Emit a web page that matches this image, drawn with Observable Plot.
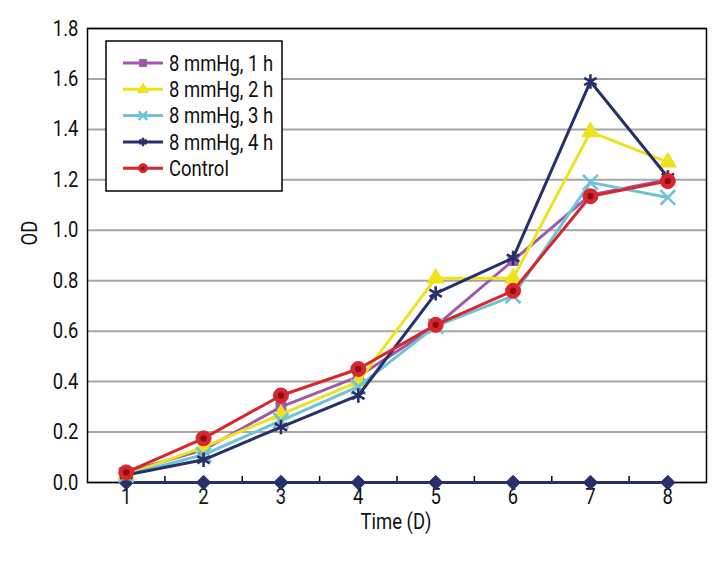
<!DOCTYPE html>
<html><head><meta charset="utf-8">
<script src="https://cdn.jsdelivr.net/npm/d3@7"></script>
<script src="https://cdn.jsdelivr.net/npm/@observablehq/plot@0.6"></script>
<style>body{margin:0;background:#fff}</style>
</head><body><div id="chart"></div>
<script>
const days = [1, 2, 3, 4, 5, 6, 7, 8];
const od1h = [0.04, 0.13, 0.30, 0.42, 0.62, 0.88, 1.14, 1.20];
const od2h = [0.03, 0.14, 0.27, 0.40, 0.81, 0.81, 1.39, 1.27];
const od3h = [0.03, 0.11, 0.245, 0.38, 0.62, 0.74, 1.19, 1.13];
const od4h = [0.03, 0.09, 0.22, 0.345, 0.75, 0.89, 1.59, 1.21];
const control = [0.04, 0.175, 0.345, 0.45, 0.625, 0.76, 1.135, 1.195];
const baseline = [0, 0, 0, 0, 0, 0, 0, 0];
const seriesNames = ["8 mmHg, 1 h", "8 mmHg, 2 h", "8 mmHg, 3 h", "8 mmHg, 4 h", "Control"];
const seriesValues = [od1h, od2h, od3h, od4h, control];
const colors = ["#9e5aa8", "#ede31c", "#6ec3d6", "#27306b", "#d8262e"];
const symbols = ["square", "triangle", "times", "asterisk", "circle"];
const yTicks = [0, 0.2, 0.4, 0.6, 0.8, 1.0, 1.2, 1.4, 1.6, 1.8];
const xLabel = "Time (D)";
const yLabel = "OD";

const FONT = "Roboto, 'Liberation Sans', 'Noto Sans', sans-serif";
const FS = 22;
const SQUEEZE = 0.84;
const boundaries = days.slice(0, -1).map(d => d + 0.5);
const base = days.map((d, j) => ({day: d, od: baseline[j]}));
const seriesData = seriesNames.map((name, i) => days.map((d, j) => ({series: name, day: d, od: seriesValues[i][j]})));

function markerMarks(data, i) {
  const c = colors[i], s = symbols[i];
  if (s === "circle") return [
    Plot.dot(data, {x: "day", y: "od", r: 7.5, fill: c, stroke: c, strokeWidth: 1}),
    Plot.dot(data, {x: "day", y: "od", r: 3.2, fill: "#8e0c14"})
  ];
  if (s === "times" || s === "asterisk") return [
    Plot.dot(data, {x: "day", y: "od", r: 6.8, symbol: s, stroke: c, strokeWidth: 2.6})
  ];
  return [Plot.dot(data, {x: "day", y: "od", r: s === "triangle" ? 6.3 : 5.6, symbol: s, fill: c, stroke: c, strokeWidth: 1})];
}

const marks = [
  Plot.ruleY(yTicks, {stroke: "#a6a6a6", strokeWidth: 2}),
  Plot.frame({stroke: "#000", strokeWidth: 1.5}),
  Plot.ruleX(boundaries, {y1: 0, y2: 0.024, stroke: "#000", strokeWidth: 1.5}),
  Plot.axisY({ticks: yTicks, tickSize: 0, tickPadding: 9, tickFormat: d3.format(".1f"), label: null, fontSize: FS}),
  Plot.axisX({ticks: days, tickSize: 0, tickPadding: 6, tickFormat: d => String(d), label: null, fontSize: FS}),
  Plot.line(base, {x: "day", y: "od", stroke: "#27306b", strokeWidth: 3}),
  Plot.dot(base, {x: "day", y: "od", r: 6.5, symbol: "diamond2", fill: "#27306b", stroke: "#27306b", strokeWidth: 1})
];
seriesData.forEach((data, i) => {
  marks.push(Plot.line(data, {x: "day", y: "od", stroke: colors[i], strokeWidth: 3}));
  marks.push(...markerMarks(data, i));
});

const svg = Plot.plot({
  width: 720, height: 576,
  marginLeft: 87, marginRight: 14, marginTop: 28, marginBottom: 94,
  style: {fontFamily: FONT, fontSize: FS + "px", background: "#fff", color: "#111"},
  x: {domain: [0.5, 8.5]},
  y: {domain: [0, 1.8]},
  marks
});
document.getElementById("chart").appendChild(svg);

const sel = d3.select(svg);
// axis titles
sel.append("text").attr("transform", "translate(396,529)").attr("text-anchor", "middle")
  .attr("font-family", FONT).attr("font-size", FS).attr("fill", "#111").text(xLabel);
sel.append("text").attr("transform", "translate(37,233) rotate(-90)").attr("text-anchor", "middle")
  .attr("font-family", FONT).attr("font-size", FS).attr("fill", "#111").text(yLabel);

// legend
const lg = sel.append("g");
lg.append("rect").attr("x", 106).attr("y", 41).attr("width", 176).attr("height", 150)
  .attr("fill", "#fff").attr("stroke", "#000").attr("stroke-width", 1.5);
const d3sym = {square: d3.symbolSquare, triangle: d3.symbolTriangle, times: d3.symbolTimes, asterisk: d3.symbolAsterisk, circle: d3.symbolCircle};
seriesNames.forEach((name, i) => {
  const y = 63 + i * 26.3;
  const c = colors[i], s = symbols[i];
  const g = lg.append("g");
  g.append("line").attr("x1", 123).attr("x2", 163).attr("y1", y).attr("y2", y).attr("stroke", c).attr("stroke-width", 3);
  const stroked = s === "times" || s === "asterisk";
  const r = s === "circle" ? 4.5 : 4;
  g.append("path").attr("transform", `translate(143,${y})`)
    .attr("d", d3.symbol(d3sym[s], r * r * Math.PI)())
    .attr("fill", stroked ? "none" : c).attr("stroke", c).attr("stroke-width", stroked ? 2.5 : 1);
  if (s === "circle") g.append("circle").attr("cx", 143).attr("cy", y).attr("r", 1.8).attr("fill", "#8e0c14");
  g.append("text").attr("transform", `translate(169,${y})`).attr("dy", "0.35em").attr("text-anchor", "start")
    .attr("font-family", FONT).attr("font-size", FS).attr("fill", "#111").text(name);
});

// condensed look: squeeze every text horizontally about its own anchor (positions untouched)
sel.selectAll("text").each(function () {
  const xs = this.getAttribute("x");
  const ax = xs && /^-?[\d.]+$/.test(xs.trim()) ? +xs : 0;
  const t = this.getAttribute("transform") || "";
  this.setAttribute("transform", `${t} translate(${ax},0) scale(${SQUEEZE},1) translate(${-ax},0)`.trim());
});
</script>
</body></html>
